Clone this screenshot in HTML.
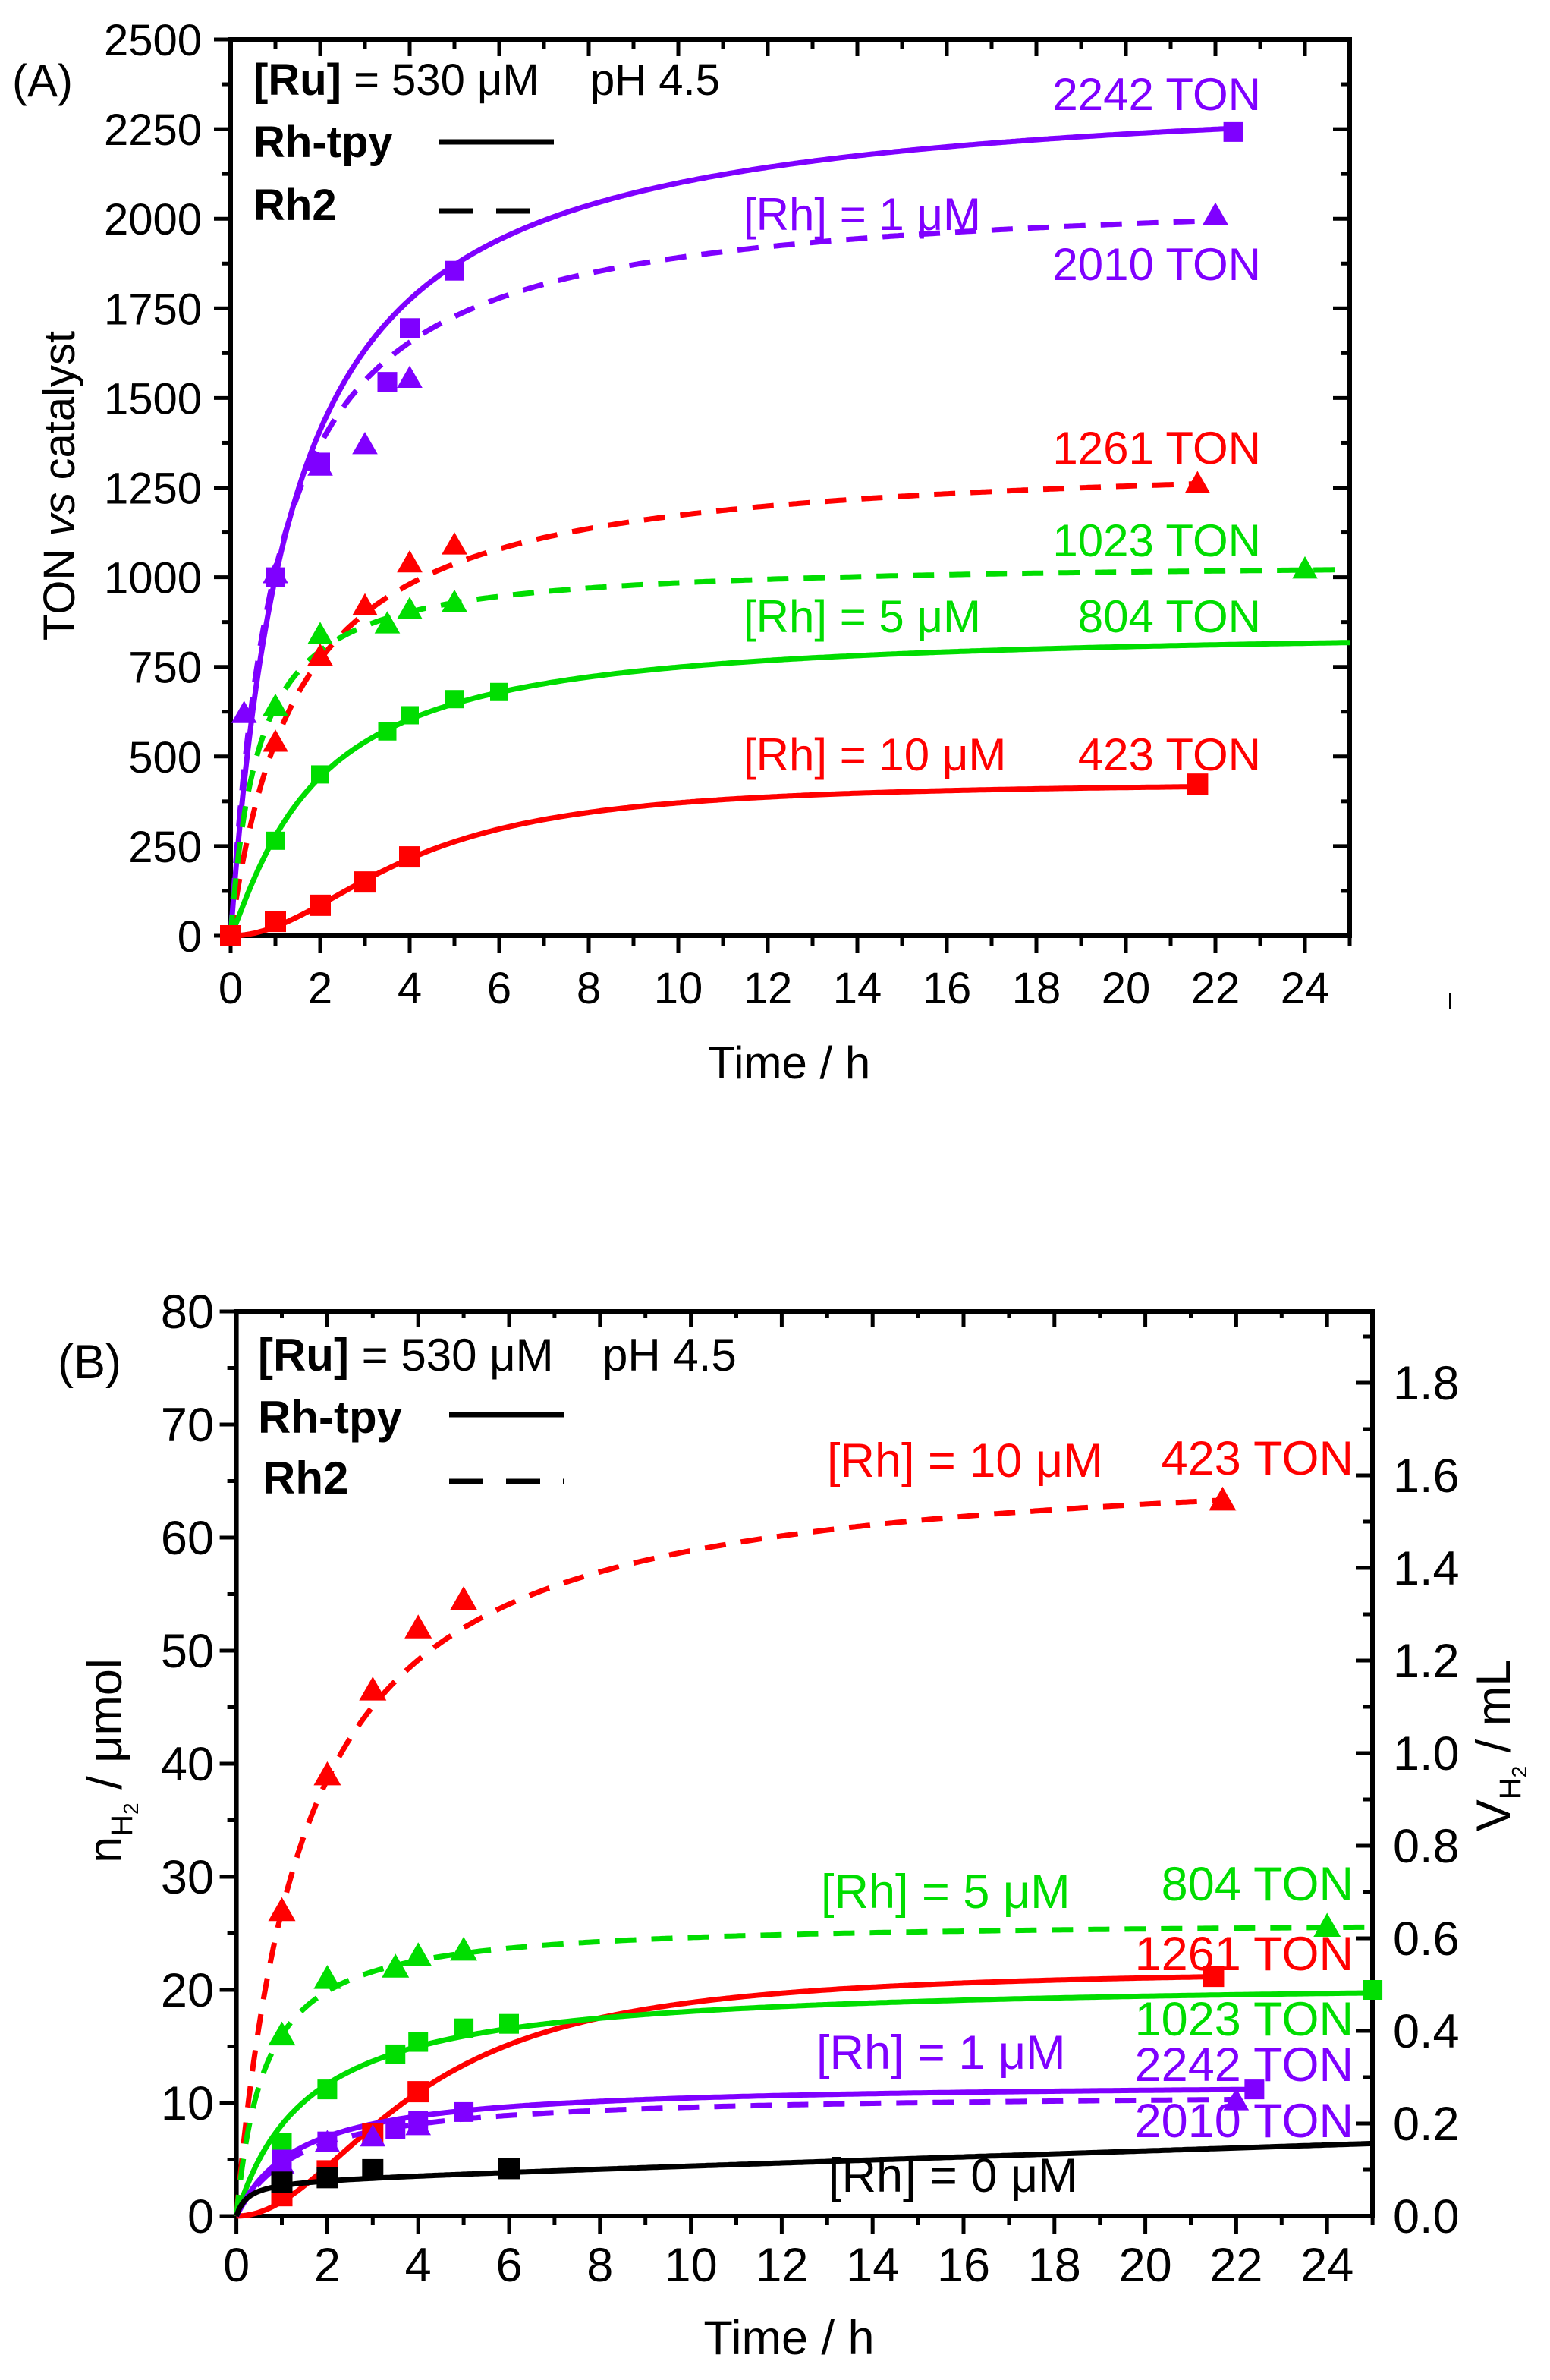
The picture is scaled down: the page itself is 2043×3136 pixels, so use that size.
<!DOCTYPE html>
<html><head><meta charset="utf-8"><style>
html,body{margin:0;padding:0;background:#fff;}
svg{display:block;}
text{font-family:"Liberation Sans",Arial,sans-serif;white-space:pre;}
</style></head><body>
<svg id="s" xmlns="http://www.w3.org/2000/svg" width="2043" height="3136" viewBox="0 0 2043 3136" xml:space="preserve">
<rect width="2043" height="3136" fill="#fff"/>
<g id="g"></g>
<g font-size="58" fill="#000">
<text x="16" y="127" font-size="60">(A)</text>
<g text-anchor="end" id="aytl"></g>
<g text-anchor="middle" id="axtl"></g>
<text x="1040" y="1421" text-anchor="middle" font-size="60">Time / h</text>
<text transform="translate(98,640) rotate(-90)" text-anchor="middle" font-size="58">TON <tspan font-style="italic">vs</tspan> catalyst</text>
<text x="334" y="125" font-size="58"><tspan font-weight="bold">[Ru]</tspan> = 530 μM</text>
<text x="778" y="125" font-size="58">pH 4.5</text>
<text x="334" y="207" font-size="58" font-weight="bold">Rh-tpy</text>
<text x="334" y="290" font-size="58" font-weight="bold">Rh2</text>
</g>
<g font-size="60">
<text x="1662" y="145" text-anchor="end" fill="#7f00ff">2242 TON</text>
<text x="980" y="303" fill="#7f00ff">[Rh] = 1 μM</text>
<text x="1662" y="369" text-anchor="end" fill="#7f00ff">2010 TON</text>
<text x="1662" y="611" text-anchor="end" fill="#ff0000">1261 TON</text>
<text x="1662" y="733" text-anchor="end" fill="#00dd00">1023 TON</text>
<text x="980" y="833" fill="#00dd00">[Rh] = 5 μM</text>
<text x="1662" y="833" text-anchor="end" fill="#00dd00">804 TON</text>
<text x="980" y="1015" fill="#ff0000">[Rh] = 10 μM</text>
<text x="1662" y="1015" text-anchor="end" fill="#ff0000">423 TON</text>
</g>
<line x1="1911" y1="1309" x2="1911" y2="1329" stroke="#000" stroke-width="2"/>
<g font-size="63" fill="#000">
<text x="76" y="1816">(B)</text>
<g text-anchor="end" id="bytl"></g>
<g id="bvtl"></g>
<g text-anchor="middle" id="bxtl"></g>
<text x="1040" y="3102" text-anchor="middle">Time / h</text>
<text transform="translate(160,2320) rotate(-90)" text-anchor="middle">n<tspan font-size="40" dy="14">H</tspan><tspan font-size="28" dy="8">2</tspan><tspan dy="-22"> / μmol</tspan></text>
<text transform="translate(1990,2300) rotate(-90)" text-anchor="middle">V<tspan font-size="40" dy="14">H</tspan><tspan font-size="28" dy="8">2</tspan><tspan dy="-22"> / mL</tspan></text>
<text x="340" y="1806" font-size="60"><tspan font-weight="bold">[Ru]</tspan> = 530 μM</text>
<text x="794" y="1806" font-size="60">pH 4.5</text>
<text x="340" y="1888" font-size="60" font-weight="bold">Rh-tpy</text>
<text x="346" y="1968" font-size="60" font-weight="bold">Rh2</text>
</g>
<g font-size="63">
<text x="1090" y="1946" fill="#ff0000">[Rh] = 10 μM</text>
<text x="1784" y="1943" text-anchor="end" fill="#ff0000">423 TON</text>
<text x="1082" y="2514" fill="#00dd00">[Rh] = 5 μM</text>
<text x="1784" y="2504" text-anchor="end" fill="#00dd00">804 TON</text>
<text x="1784" y="2596" text-anchor="end" fill="#ff0000">1261 TON</text>
<text x="1784" y="2682" text-anchor="end" fill="#00dd00">1023 TON</text>
<text x="1076" y="2726" fill="#7f00ff">[Rh] = 1 μM</text>
<text x="1784" y="2742" text-anchor="end" fill="#7f00ff">2242 TON</text>
<text x="1784" y="2816" text-anchor="end" fill="#7f00ff">2010 TON</text>
<text x="1092" y="2888" fill="#000">[Rh] = 0 μM</text>
</g>
</svg>
<script>
(function(){
var NS="http://www.w3.org/2000/svg",g=document.getElementById("g");
function el(t,a,p){var e=document.createElementNS(NS,t);for(var k in a)e.setAttribute(k,a[k]);(p||g).appendChild(e);return e;}
function txt(p,x,y,s){var e=el("text",{x:x,y:y},document.getElementById(p));e.textContent=s;}
var P="#7f00ff",R="#ff0000",G="#00dd00",K="#000";
var A={x0:304,sx:59.0,y0:1233,sy:1181/2500,L:304,Rt:1779,T:52,B:1233};
function ax(t){return A.x0+t*A.sx;} function ay(v){return A.y0-v*A.sy;}
el("rect",{x:A.L,y:A.T,width:A.Rt-A.L,height:A.B-A.T,fill:"none",stroke:"#000","stroke-width":6});
for(var t=0;t<=25;t++){var x=ax(t),maj=t%2==0;
 el("line",{x1:x,y1:A.B,x2:x,y2:A.B+(maj?23:13),stroke:"#000","stroke-width":5});
 el("line",{x1:x,y1:A.T,x2:x,y2:A.T+(maj?22:12),stroke:"#000","stroke-width":5});
 if(maj&&t<=24)txt("axtl",x,1322,t);}
for(var v=0;v<=2500;v+=125){var y=ay(v),maj=v%250==0;
 el("line",{x1:A.L,y1:y,x2:A.L-(maj?22:12),y2:y,stroke:"#000","stroke-width":5});
 el("line",{x1:A.Rt,y1:y,x2:A.Rt-(maj?22:12),y2:y,stroke:"#000","stroke-width":5});
 if(maj)txt("aytl",266,y+21,v);}
el("line",{x1:579,y1:187,x2:730,y2:187,stroke:"#000","stroke-width":7});
el("line",{x1:579,y1:278,x2:725,y2:278,stroke:"#000","stroke-width":7,"stroke-dasharray":"45 30"});
function curve(f,fx,fy,tmax,col,dash){var d="";for(var i=0;i<=400;i++){var t=tmax*i/400;d+=(i?"L":"M")+fx(t).toFixed(1)+" "+fy(f(t)).toFixed(1);}
 var a={d:d,fill:"none",stroke:col,"stroke-width":7};if(dash)a["stroke-dasharray"]="28 20";el("path",a);}
function hyp(V,Kk){return function(t){return V*t/(t+Kk);};}
function hill(V,Kk){return function(t){return V*t*t/(Kk*Kk+t*t);};}
function sq(x,y,c,s){el("rect",{x:x-s/2,y:y-s/2,width:s,height:s,fill:c});}
function tri(x,y,c,s){el("path",{d:"M"+x+" "+(y-s*0.6)+"L"+(x+s*0.6)+" "+(y+s*0.45)+"L"+(x-s*0.6)+" "+(y+s*0.45)+"Z",fill:c});}
curve(hyp(2392,1.392),ax,ay,22.4,P);
curve(hyp(2090,1.05),ax,ay,22,P,1);
curve(hyp(1348,1.497),ax,ay,21.6,R,1);
curve(hyp(1047,0.636),ax,ay,25,G,1);
curve(function(t){return 860*Math.pow(t,1.15)/(Math.pow(1.9,1.15)+Math.pow(t,1.15));},ax,ay,25,G);
curve(hill(430,4),ax,ay,21.6,R);
[[1,1000],[2,1320],[3.5,1545],[4,1695],[5,1855],[22.4,2242]].forEach(function(p){sq(ax(p[0]),ay(p[1]),P,26);});
[[0.3,620],[1,1010],[2,1310],[3,1370],[4,1555],[22,2010]].forEach(function(p){tri(ax(p[0]),ay(p[1]),P,28);});
[[1,540],[2,780],[3,920],[4,1040],[5,1090],[21.6,1261]].forEach(function(p){tri(ax(p[0]),ay(p[1]),R,28);});
[[1,640],[2,840],[3.5,870],[4,910],[5,930],[24,1023]].forEach(function(p){tri(ax(p[0]),ay(p[1]),G,28);});
[[0,0],[1,265],[2,450],[3.5,570],[4,615],[5,660],[6,680]].forEach(function(p){sq(ax(p[0]),ay(p[1]),G,24);});
[[0,0],[1,40],[2,85],[3,150],[4,220],[21.6,423]].forEach(function(p){sq(ax(p[0]),ay(p[1]),R,28);});
var B={x0:311.6,sx:59.9,y0:2920,sy:1192/80,L:311.6,Rt:1809,T:1728,B:2920};
function bx(t){return B.x0+t*B.sx;} function by(v){return B.y0-v*B.sy;}
el("rect",{x:B.L,y:B.T,width:B.Rt-B.L,height:B.B-B.T,fill:"none",stroke:"#000","stroke-width":6});
for(var t=0;t<=25;t++){var x=bx(t),maj=t%2==0;
 el("line",{x1:x,y1:B.B,x2:x,y2:B.B+(maj?24:12),stroke:"#000","stroke-width":5});
 el("line",{x1:x,y1:B.T,x2:x,y2:B.T+(maj?21:9),stroke:"#000","stroke-width":5});
 if(maj&&t<=24)txt("bxtl",x,3006,t);}
for(var v=0;v<=80;v+=5){var y=by(v),maj=v%10==0;
 el("line",{x1:B.L,y1:y,x2:B.L-(maj?22:12),y2:y,stroke:"#000","stroke-width":5});
 if(maj)txt("bytl",282,y+22,v);}
for(var i=0;i<=19;i++){var V=i*0.1,y=2920-V*610,maj=i%2==0;if(y<B.T)break;
 el("line",{x1:B.Rt,y1:y,x2:B.Rt-(maj?22:12),y2:y,stroke:"#000","stroke-width":5});
 if(maj)txt("bvtl",1836,y+22,V.toFixed(1));}
el("line",{x1:592,y1:1864,x2:744,y2:1864,stroke:"#000","stroke-width":7});
el("line",{x1:592,y1:1952,x2:744,y2:1952,stroke:"#000","stroke-width":7,"stroke-dasharray":"45 30"});
curve(hyp(67.7,1.507),bx,by,21.7,R,1);
curve(hyp(26.2,0.636),bx,by,25,G,1);
curve(hill(21.9,4),bx,by,21.5,R);
curve(function(t){return 21.0*t/(t+1.6);},bx,by,25,G);
curve(hyp(11.89,1.378),bx,by,22.4,P);
curve(hyp(10.95,1.38),bx,by,22,P,1);
curve(function(t){return 3.2*t/(t+0.25)+0.13*t;},bx,by,25,K);
[[1,27],[2,39],[3,46.5],[4,52],[5,54.5],[21.7,63.3]].forEach(function(p){tri(bx(p[0]),by(p[1]),R,30);});
[[1,16],[2,21],[3.5,22],[4,23],[5,23.5],[24,25.6]].forEach(function(p){tri(bx(p[0]),by(p[1]),G,30);});
[[1,6.5],[2,11.2],[3.5,14.3],[4,15.4],[5,16.6],[6,17],[25,20]].forEach(function(p){sq(bx(p[0]),by(p[1]),G,26);});
[[1,1.8],[2,4],[3,7.3],[4,11],[21.5,21.2]].forEach(function(p){sq(bx(p[0]),by(p[1]),R,28);});
[[1,5],[2,6.6],[3.5,7.7],[4,8.4],[5,9.2],[22.4,11.2]].forEach(function(p){sq(bx(p[0]),by(p[1]),P,26);});
[[1,4.6],[2,6.5],[3,7],[4,8],[22,10.2]].forEach(function(p){tri(bx(p[0]),by(p[1]),P,28);});
[[1,3],[2,3.4],[3,4.1],[6,4.2]].forEach(function(p){sq(bx(p[0]),by(p[1]),K,28);});
})();
</script>
</body></html>
